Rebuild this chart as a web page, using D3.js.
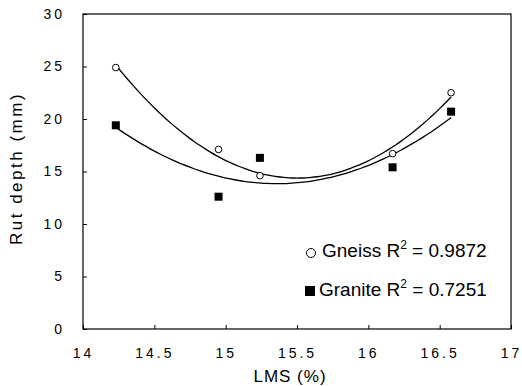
<!DOCTYPE html>
<html>
<head>
<meta charset="utf-8">
<script src="https://cdn.jsdelivr.net/npm/d3@7"></script>
<style>
  body { margin: 0; background: #fff; }
  text { font-family: "Liberation Sans", Arial, sans-serif; fill: #000; }
</style>
</head>
<body>
<div id="chart"></div>
<script>
// data
const lms = [14.23, 14.95, 15.24, 16.17, 16.58];
const gneiss = [24.9, 17.1, 14.6, 16.7, 22.5];
const granite = [19.4, 12.6, 16.3, 15.4, 20.7];
const xTicks = [14, 14.5, 15, 15.5, 16, 16.5, 17];
const yTicks = [0, 5, 10, 15, 20, 25, 30];

const margin = {top: 14, right: 11, bottom: 57, left: 83},
  width = 522 - margin.left - margin.right,
  height = 386 - margin.top - margin.bottom;

const svg = d3.select("#chart")
.append("svg")
  .attr("width", 522)
  .attr("height", 386)
.append("g")
  .attr("transform", `translate(${margin.left},${margin.top})`);

const x = d3.scaleLinear().domain([14, 17]).range([0, width]);
const y = d3.scaleLinear().domain([0, 30]).range([height, 0]);

// frame
svg.append("rect")
  .attr("width", width).attr("height", height)
  .attr("fill", "none").attr("stroke", "#000").attr("stroke-width", 1.2);

const xAxis = svg.append("g")
  .attr("transform", `translate(0,${height})`)
  .call(d3.axisBottom(x).tickValues(xTicks).tickSizeInner(-4).tickSizeOuter(0)
    .tickPadding(19).tickFormat(d3.format("")));
const yAxis = svg.append("g")
  .call(d3.axisLeft(y).tickValues(yTicks).tickSizeInner(-4).tickSizeOuter(0)
    .tickPadding(18));
[xAxis, yAxis].forEach(a => {
  a.select(".domain").remove();
  a.selectAll("text").attr("font-size", 14).style("letter-spacing", "3px")
    .attr("font-family", null);
});

// least-squares quadratic trendline
function quadFit(xs, ys) {
  let S = Array.from({length: 5}, () => 0), T = [0, 0, 0];
  xs.forEach((xi, i) => {
    for (let k = 0; k < 5; k++) S[k] += Math.pow(xi, k);
    for (let k = 0; k < 3; k++) T[k] += ys[i] * Math.pow(xi, k);
  });
  const A = [[S[0], S[1], S[2], T[0]], [S[1], S[2], S[3], T[1]], [S[2], S[3], S[4], T[2]]];
  for (let i = 0; i < 3; i++) {
    for (let j = i + 1; j < 3; j++) {
      const f = A[j][i] / A[i][i];
      for (let k = i; k < 4; k++) A[j][k] -= f * A[i][k];
    }
  }
  const c = [0, 0, 0];
  for (let i = 2; i >= 0; i--) {
    let s = A[i][3];
    for (let k = i + 1; k < 3; k++) s -= A[i][k] * c[k];
    c[i] = s / A[i][i];
  }
  return v => c[0] + c[1] * v + c[2] * v * v;
}

const line = d3.line().x(d => x(d[0])).y(d => y(d[1])).curve(d3.curveBasis);
[gneiss, granite].forEach(series => {
  const f = quadFit(lms, series);
  const xs = d3.range(0, 61).map(i => lms[0] + (lms[4] - lms[0]) * i / 60);
  svg.append("path")
    .datum(xs.map(v => [v, f(v)]))
    .attr("d", line)
    .attr("fill", "none").attr("stroke", "#000").attr("stroke-width", 1.3);
});

// markers
svg.selectAll(".gn")
  .data(lms.map((v, i) => [v, gneiss[i]]))
  .join("circle")
  .attr("cx", d => x(d[0])).attr("cy", d => y(d[1])).attr("r", 3.3)
  .attr("fill", "#fff").attr("stroke", "#000").attr("stroke-width", 1);
svg.selectAll(".gr")
  .data(lms.map((v, i) => [v, granite[i]]))
  .join("rect")
  .attr("x", d => x(d[0]) - 4).attr("y", d => y(d[1]) - 4)
  .attr("width", 8).attr("height", 8).attr("fill", "#000");

// legend
const leg = svg.append("g").attr("transform", "translate(228,239)");
leg.append("circle").attr("cx", 0).attr("cy", 0).attr("r", 4.5)
  .attr("fill", "#fff").attr("stroke", "#000").attr("stroke-width", 1);
leg.append("rect").attr("x", -6).attr("y", 33).attr("width", 10).attr("height", 10)
  .attr("fill", "#000");
const labels = [["Gneiss", "0.9872"], ["Granite", "0.7251"]];
labels.forEach((l, i) => {
  const t = leg.append("text").attr("x", i ? 8 : 11).attr("y", 4 + i * 39).attr("font-size", 19);
  t.append("tspan").text(l[0] + " R");
  t.append("tspan").attr("font-size", 12).attr("dy", -8).text("2");
  t.append("tspan").attr("dy", 8).text(" = " + l[1]);
});

// axis titles
svg.append("text")
  .attr("x", width / 2 - 7).attr("y", height + 53)
  .attr("text-anchor", "middle").attr("font-size", 17)
  .style("letter-spacing", "1px")
  .text("LMS (%)");
svg.append("text")
  .attr("transform", `translate(${-61},${height / 2 - 3}) rotate(-90)`)
  .attr("text-anchor", "middle").attr("font-size", 17)
  .style("letter-spacing", "2.5px")
  .text("Rut depth (mm)");
</script>
</body>
</html>
